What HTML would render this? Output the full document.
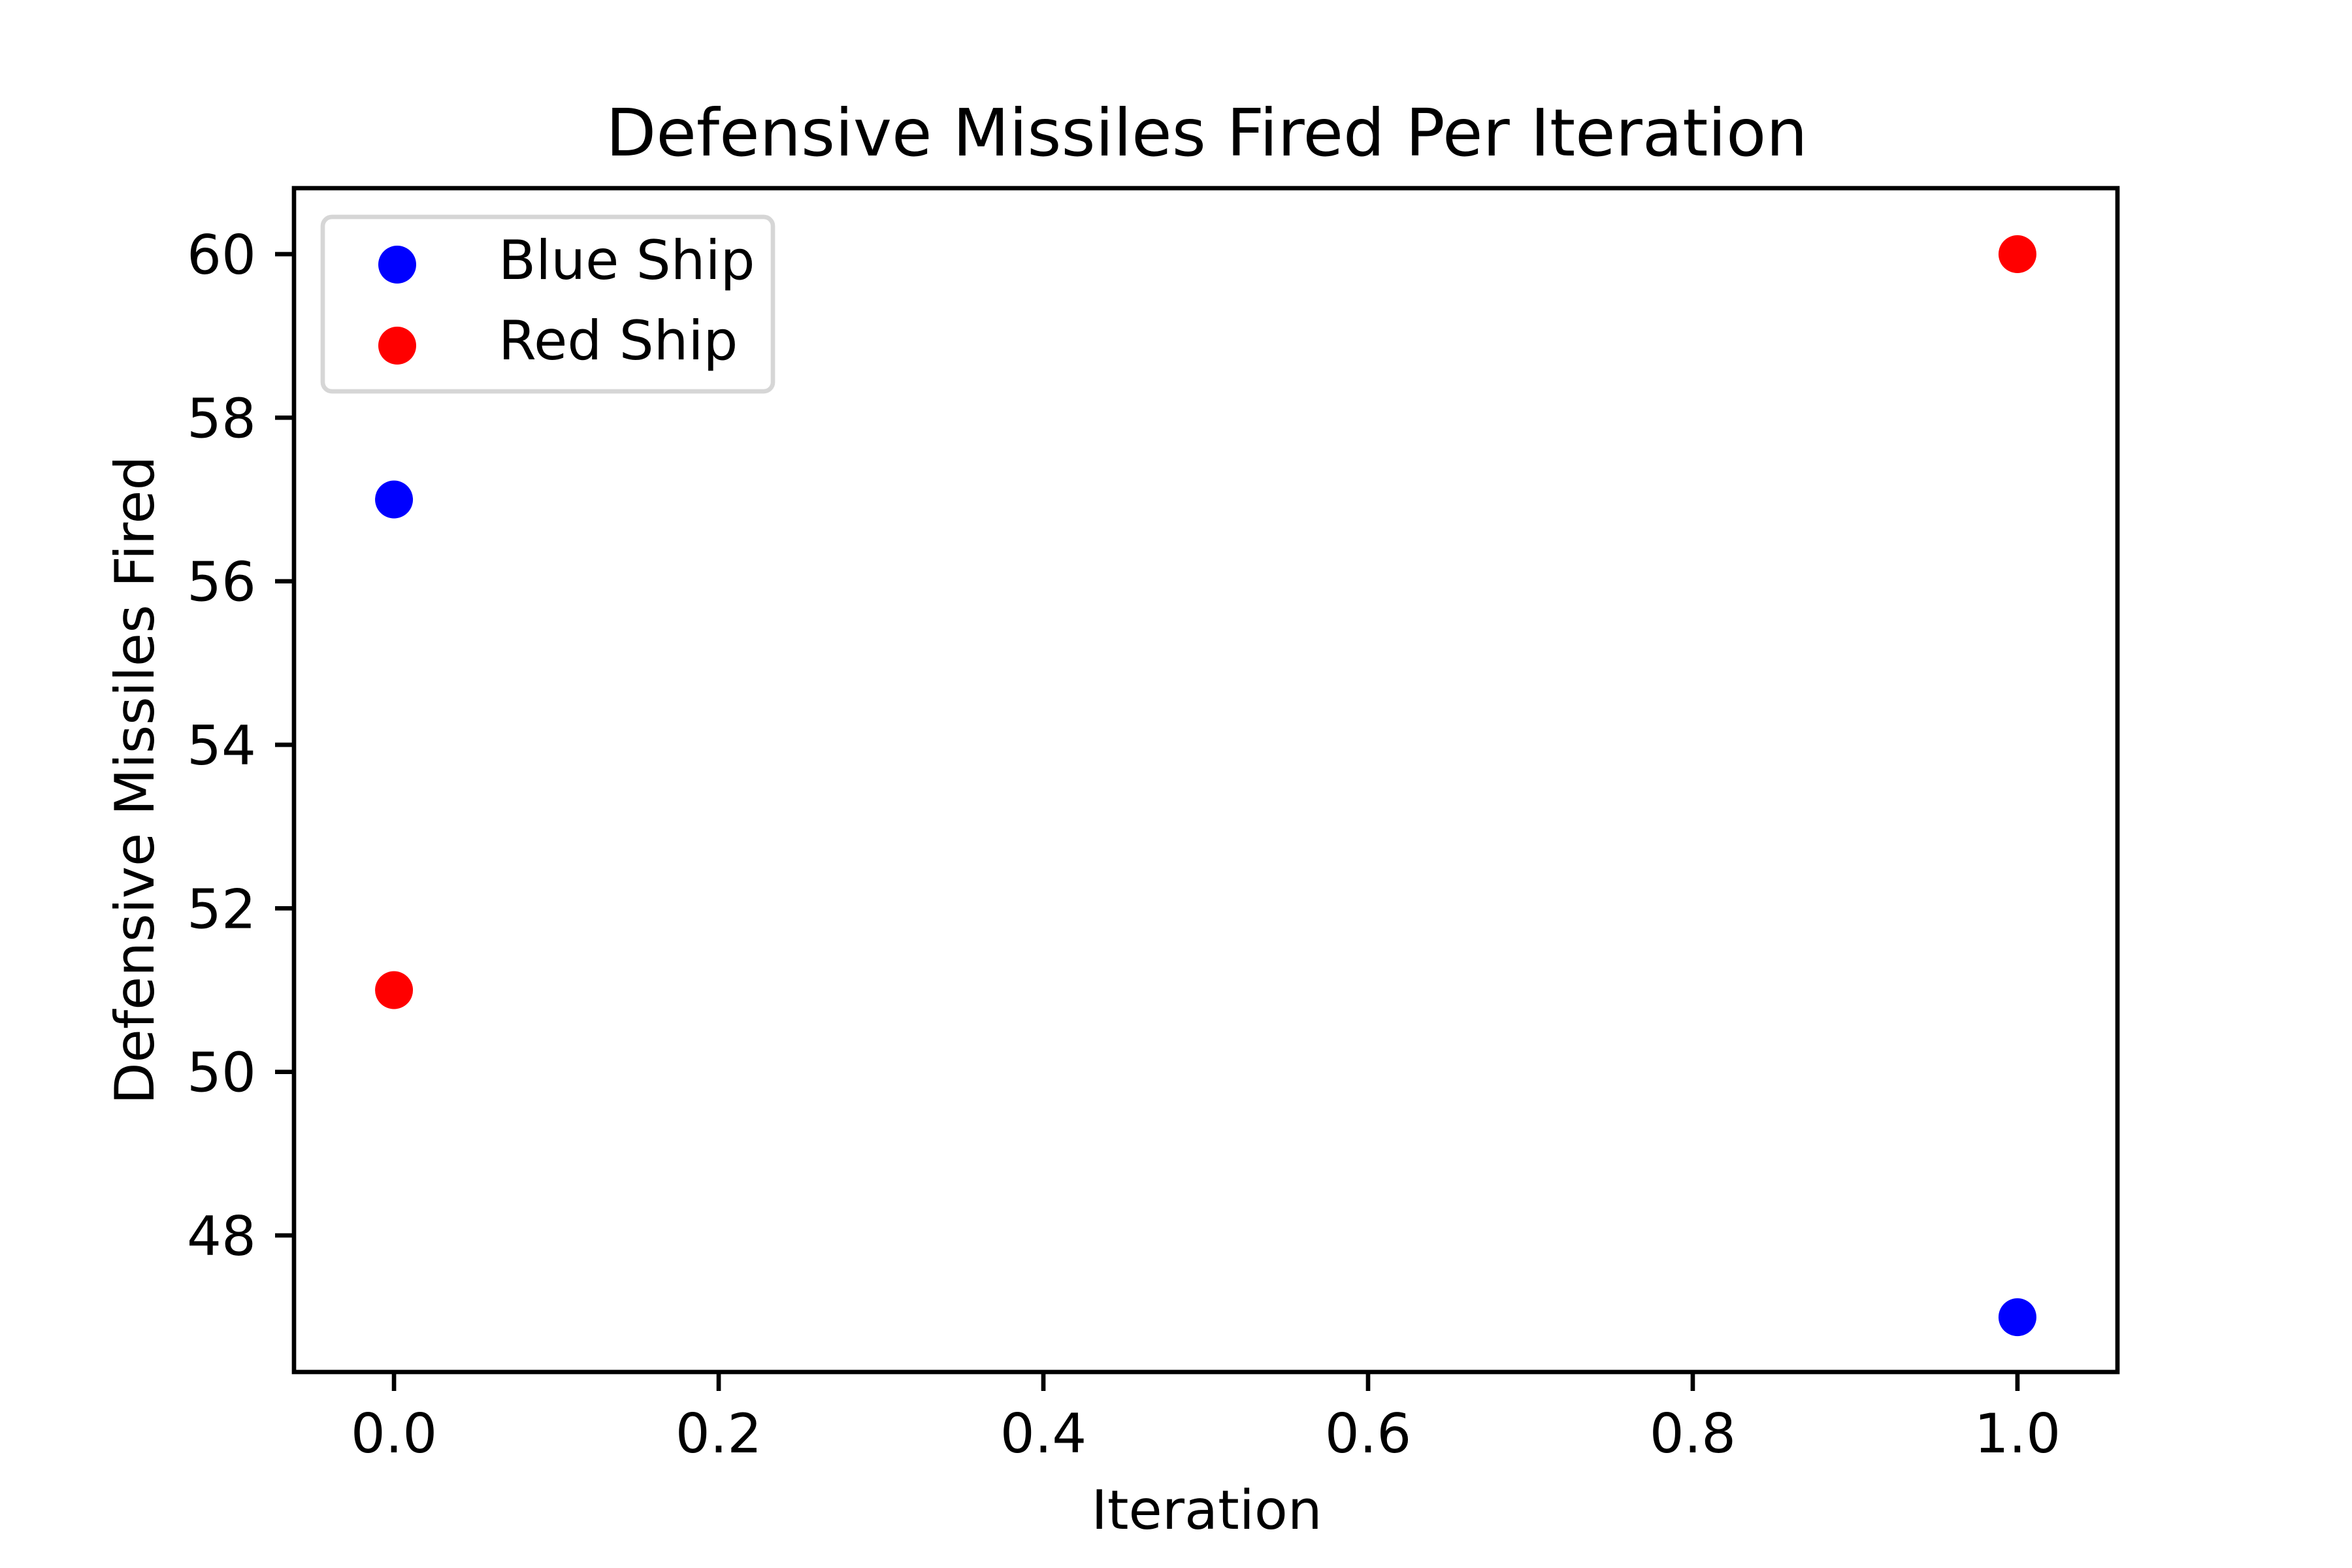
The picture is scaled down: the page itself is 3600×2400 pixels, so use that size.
<!DOCTYPE html>
<html><head><meta charset="utf-8"><style>
html,body{margin:0;padding:0;background:#fff;}
svg{display:block;font-family:"DejaVu Sans","Liberation Sans",sans-serif;}
</style></head><body>
<svg id="chart" width="3600" height="2400" viewBox="0 0 3600 2400">
<rect width="3600" height="2400" fill="#fff"/>
<text x="1847" y="238" font-size="100" text-anchor="middle">Defensive Missiles Fired Per Iteration</text>
<text x="1847" y="2340" font-size="83.3" text-anchor="middle">Iteration</text>
<text transform="translate(235,1194) rotate(-90)" font-size="83.3" text-anchor="middle">Defensive Missiles Fired</text>
<g id="ticks"></g>
<g id="marks"></g>
<rect x="450" y="288" width="2791" height="1812" fill="none" stroke="#000" stroke-width="6.67"/>
<g>
<rect x="494" y="332" width="689" height="267" rx="14" fill="#fff" fill-opacity="0.8" stroke="#d6d6d6" stroke-width="6.67"/>
<circle cx="608" cy="405" r="29" fill="#0000ff"/>
<text x="763" y="427" font-size="83.3">Blue Ship</text>
<circle cx="608" cy="529" r="29" fill="#ff0000"/>
<text x="763" y="550" font-size="83.3">Red Ship</text>
</g>
</svg>
<script>
const iterations = [0, 1];
const blueShip = [57, 47];
const redShip = [51, 60];
const xTicks = [0.0, 0.2, 0.4, 0.6, 0.8, 1.0];
const yTicks = [48, 50, 52, 54, 56, 58, 60];
const xTickLabels = ["0.0", "0.2", "0.4", "0.6", "0.8", "1.0"];
const yTickLabels = ["48", "50", "52", "54", "56", "58", "60"];

const L = 450, R = 3241, T = 288, B = 2100;
const xMin = -0.0616, xMax = 1.0616;
const yMin = 46.33, yMax = 60.807;
const sx = v => L + (v - xMin) / (xMax - xMin) * (R - L);
const sy = v => B - (v - yMin) / (yMax - yMin) * (B - T);
const NS = "http://www.w3.org/2000/svg";
const ticks = document.getElementById('ticks');
const marks = document.getElementById('marks');

xTicks.forEach((t, i) => {
  const x = sx(t);
  const ln = document.createElementNS(NS, 'line');
  ln.setAttribute('x1', x); ln.setAttribute('x2', x);
  ln.setAttribute('y1', B); ln.setAttribute('y2', B + 29);
  ln.setAttribute('stroke', '#000'); ln.setAttribute('stroke-width', '6.67');
  
  
  ticks.appendChild(ln);
  const tx = document.createElementNS(NS, 'text');
  tx.setAttribute('x', x); tx.setAttribute('y', B + 123);
  tx.setAttribute('font-size', '83.3'); tx.setAttribute('text-anchor', 'middle');
  tx.textContent = xTickLabels[i];
  
  
  ticks.appendChild(tx);
});
yTicks.forEach((t, i) => {
  const y = sy(t);
  const ln = document.createElementNS(NS, 'line');
  ln.setAttribute('x1', L - 29); ln.setAttribute('x2', L);
  ln.setAttribute('y1', y); ln.setAttribute('y2', y);
  ln.setAttribute('stroke', '#000'); ln.setAttribute('stroke-width', '6.67');
  
  
  ticks.appendChild(ln);
  const tx = document.createElementNS(NS, 'text');
  tx.setAttribute('x', L - 58); tx.setAttribute('y', y + 30);
  tx.setAttribute('font-size', '83.3'); tx.setAttribute('text-anchor', 'end');
  tx.textContent = yTickLabels[i];
  
  
  ticks.appendChild(tx);
});
function drawSeries(vals, color, name) {
  vals.forEach((v, i) => {
    const c = document.createElementNS(NS, 'circle');
    c.setAttribute('cx', sx(iterations[i])); c.setAttribute('cy', sy(v));
    c.setAttribute('r', 29); c.setAttribute('fill', color);
    
    
    marks.appendChild(c);
  });
}
drawSeries(blueShip, '#0000ff', 'blue-ship-point');
drawSeries(redShip, '#ff0000', 'red-ship-point');
</script>
</body></html>
